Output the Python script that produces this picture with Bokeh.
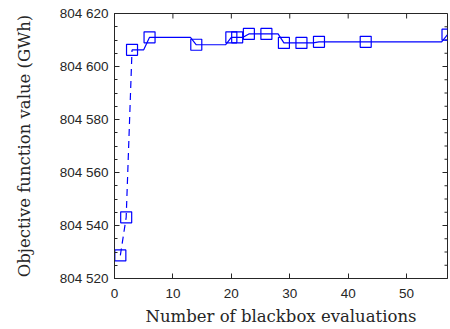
from bokeh.plotting import figure
from bokeh.models import Range1d, CustomJSTickFormatter, FixedTicker
from bokeh.embed import file_html
from bokeh.resources import INLINE

# Early (dashed) phase
early_x = [1, 2, 3]
early_y = [804528.7, 804543.1, 804606.3]

# Objective value at each evaluation (solid line)
eval_x = list(range(3, 58))
eval_y = ([804606.3] * 3 +            # 3-5
          [804611.0] * 8 +            # 6-13
          [804608.2] * 6 +            # 14-19
          [804611.0] * 3 +            # 20-22
          [804612.3] * 6 +            # 23-28
          [804608.9] * 6 +            # 29-34
          [804609.3] * 22 +           # 35-56
          [804612.0])                 # 57

# Marked evaluations
mark_x = [1, 2, 3, 6, 14, 20, 21, 23, 26, 29, 32, 35, 43, 57]
mark_y = [804528.7, 804543.1, 804606.3, 804611.0, 804608.2, 804611.0, 804611.0,
          804612.3, 804612.3, 804608.9, 804608.9, 804609.3, 804609.3, 804612.0]

x_ticks = [0, 10, 20, 30, 40, 50]
y_ticks = [804520, 804540, 804560, 804580, 804600, 804620]
y_minor = list(range(804520, 804621, 5))

XMIN, XMAX = 0, 57
YMIN, YMAX = 804520, 804620

AX = "#262626"
BLUE = "#0000ff"

W, H = 450, 329
BL, BR, BT, BB = 114, 3, 13, 51

p = figure(width=W, height=H, output_backend="svg", toolbar_location=None,
           x_range=Range1d(XMIN, XMAX), y_range=Range1d(YMIN, YMAX),
           min_border_left=BL, min_border_right=BR, min_border_top=BT,
           min_border_bottom=BB)
p.xgrid.visible = False
p.ygrid.visible = False
p.outline_line_color = AX
p.outline_line_width = 1
p.background_fill_color = "white"
p.border_fill_color = "white"

fmt = CustomJSTickFormatter(code="""
return Math.round(tick).toString().replace(/\\B(?=(\\d{3})+(?!\\d))/g, " ");
""")

xa = p.below[0]
ya = p.left[0]
xa.axis_label = "Number of blackbox evaluations"
ya.axis_label = "Objective function value (GWh)"
xa.ticker = FixedTicker(ticks=x_ticks)
ya.ticker = FixedTicker(ticks=y_ticks, minor_ticks=y_minor)
ya.formatter = fmt

for ax in [xa, ya]:
    ax.axis_line_color = AX
    ax.major_tick_line_color = AX
    ax.minor_tick_line_color = AX
    ax.major_tick_in = 5
    ax.major_tick_out = 0
    ax.minor_tick_in = 3
    ax.minor_tick_out = 0
    ax.major_label_text_font = "Liberation Sans"
    ax.major_label_text_font_size = "13.5px"
    ax.major_label_text_color = AX
    ax.axis_label_text_font = "DejaVu Serif"
    ax.axis_label_text_font_style = "normal"
    ax.axis_label_text_font_size = "16.5px"
    ax.axis_label_text_color = AX
xa.minor_tick_line_color = None
xa.major_label_standoff = 10
ya.major_label_standoff = 6
xa.axis_label_standoff = 6
ya.axis_label_standoff = 23

# mirror ticks on top and right sides (box, ticks pointing inward)
fw = W - BL - BR
fh = H - BT - BB
tx = 5 * (XMAX - XMIN) / fw
ty = 5 * (YMAX - YMIN) / fh
tx_minor = 3 * (XMAX - XMIN) / fw
p.segment(x0=x_ticks, y0=[YMAX] * len(x_ticks), x1=x_ticks,
          y1=[YMAX - ty] * len(x_ticks), line_color=AX, line_width=1)
p.segment(x0=[XMAX] * len(y_ticks), y0=y_ticks, x1=[XMAX - tx] * len(y_ticks),
          y1=y_ticks, line_color=AX, line_width=1)
p.segment(x0=[XMAX] * len(y_minor), y0=y_minor, x1=[XMAX - tx_minor] * len(y_minor),
          y1=y_minor, line_color=AX, line_width=1)

p.line(early_x, early_y, line_color=BLUE, line_width=1.2, line_dash="7 5")
p.line(eval_x, eval_y, line_color=BLUE, line_width=1.2)
p.scatter(mark_x, mark_y, marker="square", size=11, line_color=BLUE,
          line_width=1.2, fill_alpha=0)

open("out.html", "w").write(file_html(p, INLINE))
